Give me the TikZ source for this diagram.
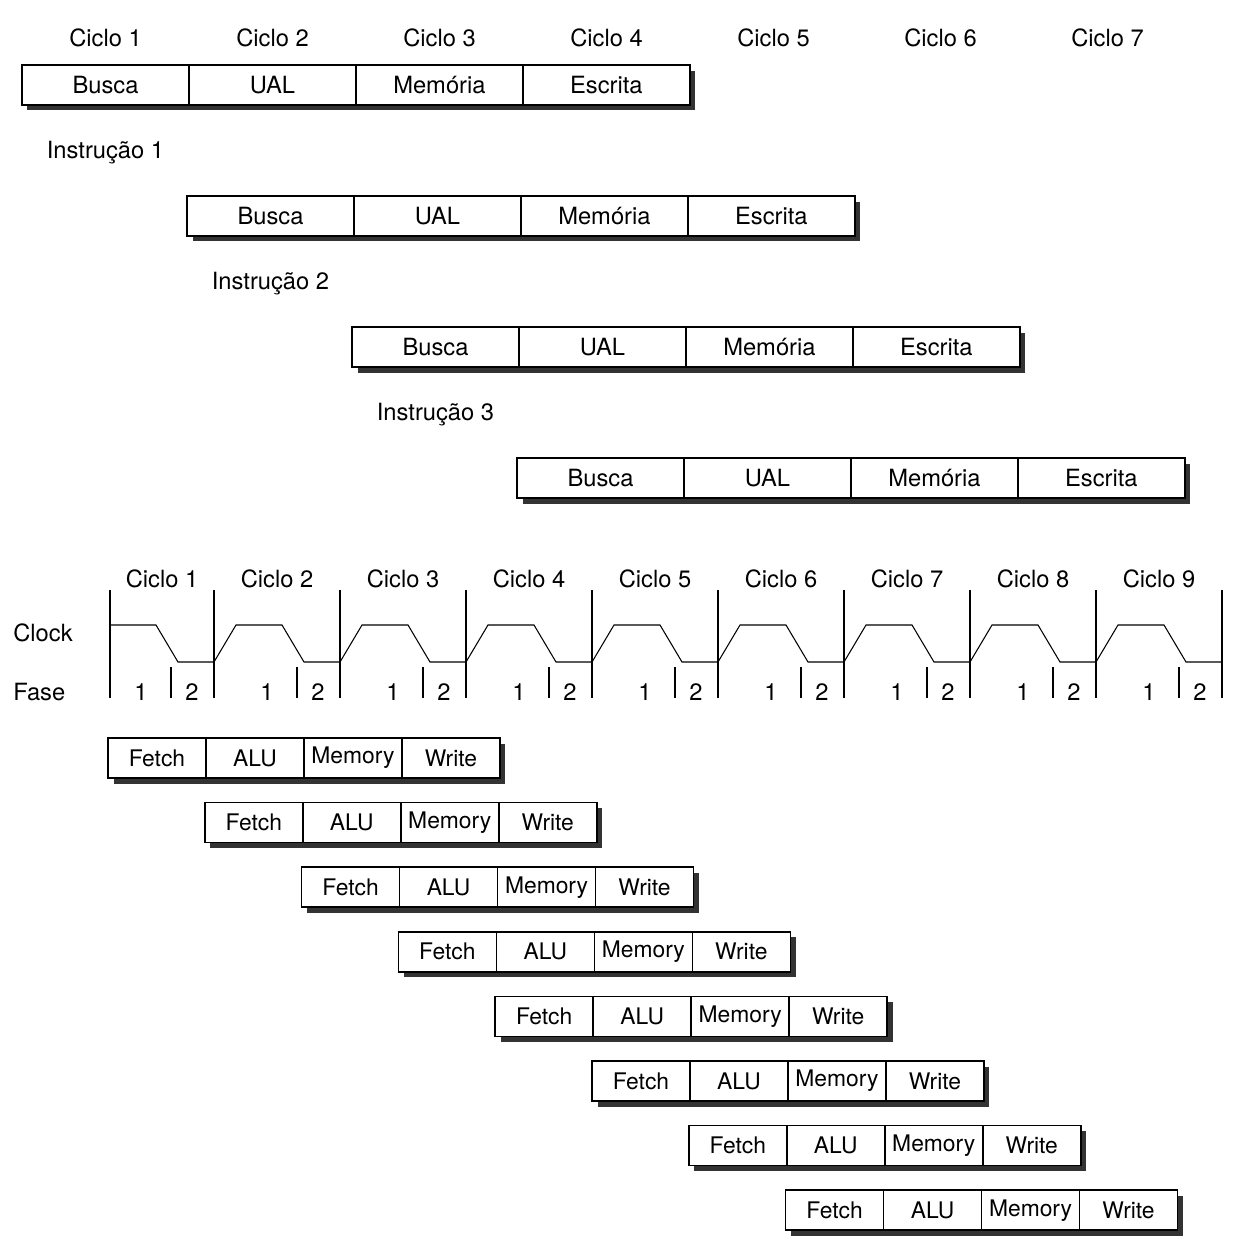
\documentclass[tikz,border=0pt]{standalone}
\usepackage{fontspec}
\setmainfont{TeX Gyre Heros}
\usetikzlibrary{positioning,shadows}

\tikzset{
  stage/.style={draw, fill=white, line width=0.9pt, outer sep=0pt, inner sep=0pt,
    minimum height=0.8cm,
    drop shadow={shadow xshift=0.11cm, shadow yshift=-0.11cm, fill=black!80, opacity=1}},
  bigstage/.style={stage, minimum width=3.34cm, font=\fontsize{13.5}{16}\selectfont},
  smallstage/.style={stage, minimum width=1.96cm, font=\fontsize{13}{15}\selectfont},
  lbl/.style={inner sep=0pt, font=\fontsize{13.5}{16}\selectfont},
  wave/.style={line width=0.6pt}
}

\begin{document}
\begin{tikzpicture}[x=0.02cm, y=-0.02cm]
  \useasboundingbox (0,0) rectangle (1234,1251);

  % four-stage rows, top part
  \foreach \i in {1,...,7}
    \node[lbl] (tc\i) at ({105.5+167*(\i-1)},38) {Ciclo \i};
  \foreach \r/\x/\y in {1/22/85, 2/187/216, 3/352/347, 4/517/478} {
    \node[bigstage, anchor=west] (b\r-1) at (\x,\y) {Busca};
    \node[bigstage, right=0pt of b\r-1] (b\r-2) {UAL};
    \node[bigstage, right=0pt of b\r-2] (b\r-3) {Memória};
    \node[bigstage, right=0pt of b\r-3] (b\r-4) {Escrita};
  }
  \foreach \r in {1,2,3}
    \node[lbl, below=0.72cm of b\r-1] (ins\r) {Instrução \r};

  % clock and phases
  \node[lbl, anchor=west] (clk) at (13,633) {Clock};
  \node[lbl, anchor=west] (fase) at (13,692) {Fase};
  \foreach \x in {110,214,340,...,1222}
    \draw[wave] (\x,590) -- (\x,698);
  \draw[wave] (110,625) -- (156,625) -- (178,662) -- (214,662)
    \foreach \s in {1,...,8} { -- ++(22,-37) -- ++(46,0) -- ++(22,37) -- ++(36,0) };
  \foreach \s [count=\i] in {88,214,...,1096} {
    \draw[wave] ({\s+83},667) -- ({\s+83},698);
    \node[lbl] (ph\i-1) at ({\s+53},692) {1};
    \node[lbl] (ph\i-2) at ({\s+104},692) {2};
    \node[lbl] (bc\i) at ({(max(\s,110)+\s+126)/2},579) {Ciclo \i};
  }

  % eight overlapped instructions
  \foreach \r in {1,...,8} {
    \node[smallstage, anchor=west] (f\r-1) at ({108+96.8*(\r-1)},{758+64.6*(\r-1)}) {Fetch};
    \node[smallstage, right=0pt of f\r-1] (f\r-2) {ALU};
    \node[smallstage, right=0pt of f\r-2] (f\r-3) {Memory};
    \node[smallstage, right=0pt of f\r-3] (f\r-4) {Write};
  }
\end{tikzpicture}
\end{document}
